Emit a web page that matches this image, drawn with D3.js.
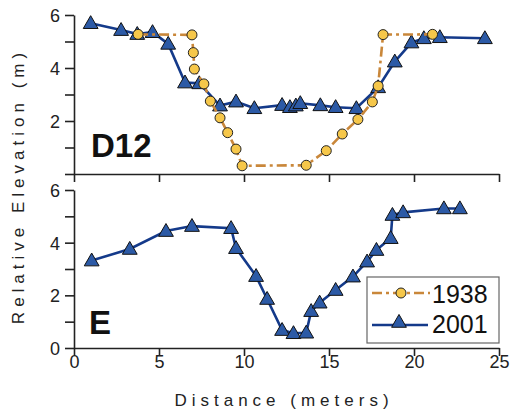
<!DOCTYPE html>
<html><head><meta charset="utf-8">
<script src="https://cdn.jsdelivr.net/npm/d3@7/dist/d3.min.js"></script>
<style>body{margin:0;background:#fff}svg{display:block}text{font-family:"Liberation Sans",Arial,sans-serif}</style>
</head><body><svg id="c" width="512" height="412"></svg>
<script>
// D12 panel, 1938 survey: [distance m, elevation m]
const d12_1938 = [[3.77,5.27],[6.94,5.25],[7.02,4.58],[7.08,3.96],[7.64,3.40],[8.02,2.75],[8.59,2.12],[9.04,1.56],[9.53,0.94],[9.89,0.31],[13.66,0.33],[14.84,0.88],[15.78,1.51],[16.70,2.06],[17.55,2.72],[17.89,3.32],[18.18,5.26],[21.09,5.27]];
// D12 panel, 2001 survey
const d12_2001 = [[0.98,5.69],[2.77,5.43],[3.72,5.28],[4.62,5.35],[5.54,4.91],[6.53,3.45],[7.37,3.42],[8.59,2.58],[9.53,2.73],[10.61,2.48],[12.24,2.60],[12.70,2.52],[13.05,2.58],[13.31,2.67],[14.49,2.59],[15.39,2.52],[16.61,2.48],[17.89,3.27],[18.87,4.24],[19.85,4.96],[20.58,5.12],[21.52,5.16],[24.17,5.12]];
// E panel, 2001 survey
const e_2001 = [[1.04,3.32],[3.28,3.76],[5.41,4.44],[6.94,4.63],[9.24,4.55],[9.53,3.79],[10.71,2.73],[11.36,1.86],[12.24,0.68],[12.91,0.56],[13.66,0.58],[13.95,1.40],[14.45,1.72],[15.39,2.20],[16.41,2.71],[17.24,3.28],[17.79,3.72],[18.63,4.17],[18.73,5.05],[19.36,5.15],[21.76,5.30],[22.70,5.30]];
const xTicks = [0,5,10,15,20,25];
const yTicks = [0,1,2,3,4,5,6];
const yLabelsTop = [2,4,6];
const yLabelsBottom = [0,2,4,6];
const seriesNames = ["1938","2001"];
const panelNames = ["D12","E"];

const C = {navy:"#143a8a", tri:"#2c5aa6", orange:"#c9873a", dot:"#f6c74a"};
const svg = d3.select("#c");
const x = d3.scaleLinear().domain([0,25]).range([74,499]);
const yTop = d3.scaleLinear().domain([0,6]).range([174,15]);
const yBot = d3.scaleLinear().domain([0,6]).range([348,190]);
const triSym = d3.symbol().type(d3.symbolTriangle).size(95);

function axes(y, labels, showX){
  const gx = svg.append("g").attr("transform",`translate(0,${y.range()[0]})`)
    .call(d3.axisBottom(x).tickValues(xTicks).tickSize(8).tickSizeOuter(0).tickFormat(showX? d3.format("d") : ""));
  const gy = svg.append("g").attr("transform",`translate(${x.range()[0]},0)`)
    .call(d3.axisLeft(y).tickValues(yTicks).tickSize(9).tickSizeOuter(0).tickFormat(d=>labels.includes(d)?d:""));
  [gx,gy].forEach(g=>{
    g.selectAll("path,line").attr("stroke","#222").attr("stroke-width",1.6);
    g.selectAll("text").attr("fill","#222").style("font-size","18px").style("font-family","'Liberation Sans',Arial,sans-serif");
  });
  gx.selectAll("text").attr("dy","0.3em").attr("y",15);
  gy.selectAll("text").attr("x",-14).attr("dy","0.36em");
}
axes(yTop, yLabelsTop, false);
axes(yBot, yLabelsBottom, true);

function line2001(data, y){
  svg.append("path").datum(data)
    .attr("d", d3.line().x(d=>x(d[0])).y(d=>y(d[1])))
    .attr("fill","none").attr("stroke",C.navy).attr("stroke-width",2.6);
  svg.append("g").selectAll("path").data(data).join("path")
    .attr("d",triSym).attr("transform",d=>`translate(${x(d[0])},${y(d[1])+1})`)
    .attr("fill",C.tri).attr("stroke","#111").attr("stroke-width",1);
}
function line1938(data, y){
  svg.append("path").datum(data)
    .attr("d", d3.line().x(d=>x(d[0])).y(d=>y(d[1])))
    .attr("fill","none").attr("stroke",C.orange).attr("stroke-width",2.6).attr("stroke-dasharray","10,4,3,4");
  svg.append("g").selectAll("circle").data(data).join("circle")
    .attr("cx",d=>x(d[0])).attr("cy",d=>y(d[1])).attr("r",5)
    .attr("fill",C.dot).attr("stroke","#222").attr("stroke-width",1);
}
line2001(d12_2001, yTop);
line1938(d12_1938, yTop);
line2001(e_2001, yBot);

svg.append("text").attr("x",91).attr("y",157).text(panelNames[0])
  .style("font-size","33px").style("font-weight","bold").attr("fill","#111");
svg.append("text").attr("x",89).attr("y",334).text(panelNames[1])
  .style("font-size","33px").style("font-weight","bold").attr("fill","#111");

// axis titles
svg.append("text").attr("x",284).attr("y",406).attr("text-anchor","middle")
  .style("font-size","17px").style("letter-spacing","5px").attr("fill","#222").text("Distance (meters)");
svg.append("text").attr("transform","translate(24,186) rotate(-90)").attr("text-anchor","middle")
  .style("font-size","17px").style("letter-spacing","5px").attr("fill","#222").text("Relative Elevation (m)");

// legend
const lg = svg.append("g");
lg.append("rect").attr("x",367).attr("y",277).attr("width",132).attr("height",66)
  .attr("fill","#fff").attr("stroke","#666").attr("stroke-width",1.2);
lg.append("line").attr("x1",372).attr("x2",430).attr("y1",293).attr("y2",293)
  .attr("stroke",C.orange).attr("stroke-width",2.6).attr("stroke-dasharray","10,4,3,4");
lg.append("circle").attr("cx",401).attr("cy",293).attr("r",5).attr("fill",C.dot).attr("stroke","#222");
lg.append("line").attr("x1",372).attr("x2",428).attr("y1",325).attr("y2",325)
  .attr("stroke",C.navy).attr("stroke-width",2.6);
lg.append("path").attr("d",triSym).attr("transform","translate(399,323)")
  .attr("fill",C.tri).attr("stroke","#111");
lg.append("text").attr("x",432).attr("y",303).text(seriesNames[0]).style("font-size","25px").attr("fill","#111");
lg.append("text").attr("x",432).attr("y",333).text(seriesNames[1]).style("font-size","25px").attr("fill","#111");
</script></body></html>
